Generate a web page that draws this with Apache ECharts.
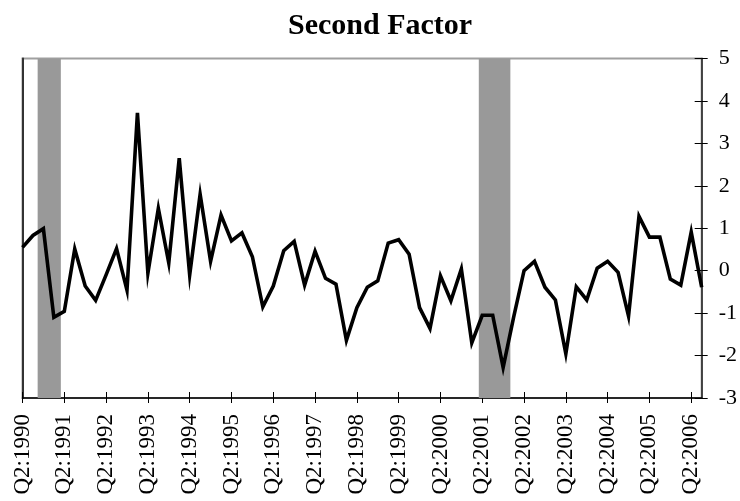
<!DOCTYPE html>
<html>
<head>
<meta charset="utf-8">
<script src="https://cdn.jsdelivr.net/npm/echarts@6/dist/echarts.min.js"></script>
<style>html,body{margin:0;padding:0;background:#fff}#c{width:740px;height:501px}</style>
</head>
<body>
<div id="c"></div>
<script>
// Quarterly categories Q2:1990 .. Q3:2006
var quarters = [];
(function(){ var q = 2, y = 1990; for (var i = 0; i < 66; i++) { quarters.push('Q' + q + ':' + y); q++; if (q > 4) { q = 1; y++; } } })();

var factorValues = [
  0.55, 0.83, 0.99, -1.10, -0.96, 0.51, -0.36, -0.70, -0.10, 0.52,
  -0.46, 3.72, -0.06, 1.47, 0.18, 2.65, -0.10, 1.80, 0.22, 1.31,
  0.70, 0.89, 0.33, -0.85, -0.36, 0.47, 0.69, -0.34, 0.46, -0.18,
  -0.32, -1.64, -0.87, -0.39, -0.24, 0.65, 0.73, 0.39, -0.87, -1.36,
  -0.12, -0.71, 0.04, -1.70, -1.05, -1.05, -2.28, -1.10, 0.00, 0.22,
  -0.39, -0.69, -1.96, -0.38, -0.69, 0.06, 0.22, -0.04, -1.07, 1.28,
  0.79, 0.79, -0.20, -0.34, 0.91, -0.39
];

var tickLabels = ['Q2:1990','Q2:1991','Q2:1992','Q2:1993','Q2:1994','Q2:1995','Q2:1996','Q2:1997','Q2:1998','Q2:1999','Q2:2000','Q2:2001','Q2:2002','Q2:2003','Q2:2004','Q2:2005','Q2:2006'];
var yTicks = [-3, -2, -1, 0, 1, 2, 3, 4, 5];

// Recession shading, in quarter-index units
var recessions = [[1.45, 3.67], [43.67, 46.69]];

var tickPos = tickLabels.map(function(l){ return quarters.indexOf(l); });
var lineData = factorValues.map(function(v, i){ return [i, v]; });

var serif = '"Liberation Serif", "Times New Roman", serif';
var chart = echarts.init(document.getElementById('c'), null, {renderer: 'canvas'});

var xBase = { type: 'value', min: 0, max: quarters.length - 1, splitLine: {show: false} };
var yBase = { type: 'value', min: yTicks[0], max: yTicks[yTicks.length - 1], interval: 1, splitLine: {show: false} };

chart.setOption({
  animation: false,
  title: {
    text: 'Second Factor', left: 283, top: 6,
    textStyle: { fontFamily: serif, fontSize: 30, fontWeight: 'bold', color: '#000' }
  },
  grid: { left: 22.5, right: 35.5, top: 58.5, bottom: 103, show: true, borderColor: '#a0a0a0', borderWidth: 2, backgroundColor: '#fff' },
  xAxis: [
    Object.assign({}, xBase, {
      position: 'bottom',
      axisLine: { show: true, onZero: false, lineStyle: { color: '#000', width: 1.5 } },
      axisTick: { show: true, length: 5, customValues: tickPos, lineStyle: { color: '#000', width: 1 } },
      axisLabel: {
        show: true, rotate: 90, margin: 16, customValues: tickPos,
        fontFamily: serif, fontSize: 23, color: '#000',
        formatter: function(v){ return quarters[Math.round(v)] || ''; }
      }
    }),
    Object.assign({}, xBase, {
      position: 'bottom',
      axisLine: { show: false, onZero: false },
      axisTick: { show: true, inside: true, length: 6, customValues: tickPos, lineStyle: { color: '#000', width: 1 } },
      axisLabel: { show: false }
    })
  ],
  yAxis: [
    Object.assign({}, yBase, {
      position: 'right',
      axisLine: { show: true, onZero: false, lineStyle: { color: '#222', width: 1.5 } },
      axisTick: { show: true, length: 6, lineStyle: { color: '#000', width: 1 } },
      axisLabel: { show: true, margin: 17, fontFamily: serif, fontSize: 22, color: '#000' }
    }),
    Object.assign({}, yBase, {
      position: 'right',
      axisLine: { show: false, onZero: false },
      axisTick: { show: true, inside: true, length: 7, lineStyle: { color: '#000', width: 1 } },
      axisLabel: { show: false }
    }),
    Object.assign({}, yBase, {
      position: 'left',
      axisLine: { show: true, onZero: false, lineStyle: { color: '#333', width: 2 } },
      axisTick: { show: false },
      axisLabel: { show: false }
    })
  ],
  series: [
    {
      type: 'line', data: [], xAxisIndex: 0, yAxisIndex: 0, z: 1, silent: true,
      markArea: {
        silent: true,
        itemStyle: { color: '#999999', opacity: 1 },
        data: recessions.map(function(r){ return [{ xAxis: r[0] }, { xAxis: r[1] }]; })
      }
    },
    {
      type: 'line', data: lineData, xAxisIndex: 0, yAxisIndex: 0, z: 5,
      symbol: 'none', lineStyle: { color: '#000', width: 3.6, join: 'miter' }, itemStyle: { color: '#000' }
    }
  ]
});
</script>
</body>
</html>
